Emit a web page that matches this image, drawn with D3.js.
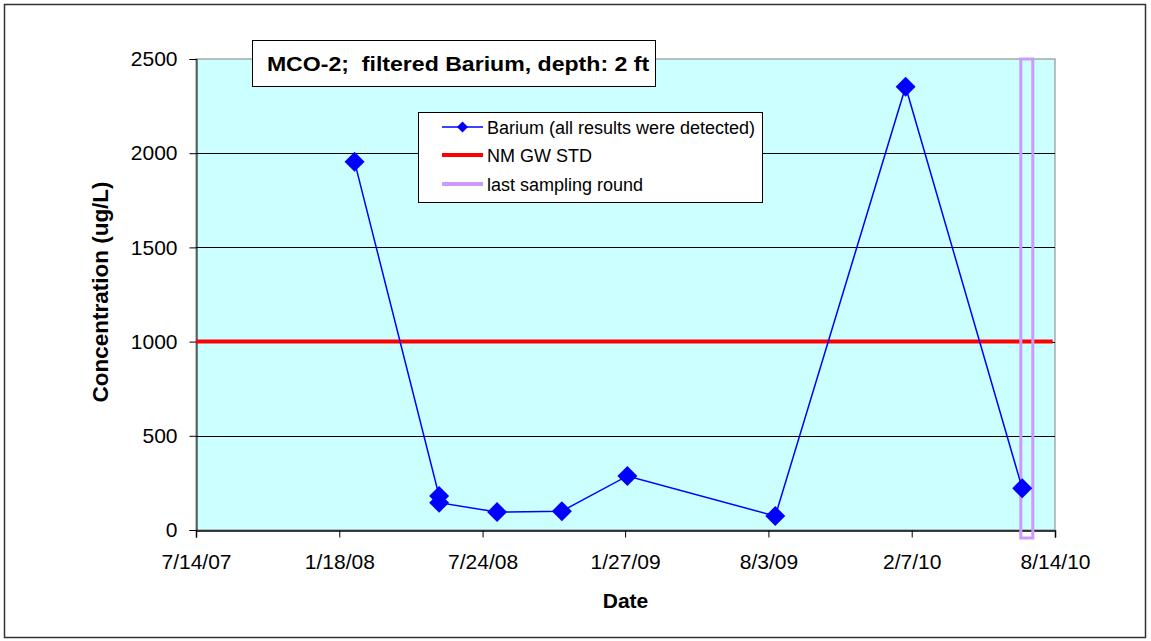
<!DOCTYPE html>
<html>
<head>
<meta charset="utf-8">
<script src="https://cdn.jsdelivr.net/npm/d3@7"></script>
<style>
  html, body { margin: 0; padding: 0; background: #ffffff; }
  svg { display: block; font-family: Arial, "Liberation Sans", sans-serif; }
</style>
</head>
<body>
<svg id="chart" width="1151" height="641"></svg>
<script>
// Barium concentration results, well MCO-2
const sampleDates = ["2008-02-07", "2008-05-28", "2008-05-28", "2008-08-12", "2008-11-05", "2009-01-30", "2009-08-12", "2010-01-30", "2010-07-02"];
const bariumValues = [1955, 180, 145, 95, 100, 287, 74, 2353, 221];

// NM groundwater standard (constant line)
const stdDates = ["2007-07-14", "2010-08-11"];
const stdValues = [1000, 1000];

// Most recent sampling round marker
const lastRoundDate = "2010-07-08";

// Axis ticks
const xTickDates = ["2007-07-14", "2008-01-18", "2008-07-24", "2009-01-27", "2009-08-03", "2010-02-07", "2010-08-14"];
const xTickLabels = ["7/14/07", "1/18/08", "7/24/08", "1/27/09", "8/3/09", "2/7/10", "8/14/10"];
const yTickValues = [0, 500, 1000, 1500, 2000, 2500];

const titleText = "MCO-2;  filtered Barium, depth: 2 ft";
const legendLabels = ["Barium (all results were detected)", "NM GW STD", "last sampling round"];

const parse = d3.utcParse("%Y-%m-%d");
const svg = d3.select("#chart");

const plot = { left: 196, right: 1055, top: 59, bottom: 530 };

const x = d3.scaleUtc()
  .domain([parse(xTickDates[0]), parse(xTickDates[xTickDates.length - 1])])
  .range([plot.left, plot.right]);
const y = d3.scaleLinear().domain([0, 2500]).range([plot.bottom, plot.top]);

// outer chart frame
svg.append("rect")
  .attr("x", 4.5).attr("y", 4.5).attr("width", 1141).attr("height", 633)
  .attr("fill", "#ffffff").attr("stroke", "#333333").attr("stroke-width", 1.5);

// plot area
svg.append("rect")
  .attr("x", plot.left).attr("y", plot.top)
  .attr("width", plot.right - plot.left).attr("height", plot.bottom - plot.top)
  .attr("fill", "#ccffff").attr("stroke", "#808080").attr("stroke-width", 1);

// horizontal gridlines
svg.append("g").selectAll("line")
  .data(yTickValues.filter(v => v > 0 && v < 2500))
  .join("line")
  .attr("x1", plot.left).attr("x2", plot.right)
  .attr("y1", d => Math.round(y(d)) + 0.5).attr("y2", d => Math.round(y(d)) + 0.5)
  .attr("stroke", "#000000").attr("stroke-width", 1);

// y axis
const yAxis = svg.append("g")
  .attr("transform", `translate(${plot.left + 0.5},0)`)
  .call(d3.axisLeft(y).tickValues(yTickValues).tickSize(7).tickPadding(12).tickFormat(d3.format("d")));
yAxis.select(".domain").attr("stroke", "#000000");
yAxis.selectAll(".tick line").attr("stroke", "#000000");
yAxis.selectAll("text").attr("font-size", 21).attr("fill", "#000000")
  .attr("font-family", "Arial, 'Liberation Sans', sans-serif");

// x axis
const xAxis = svg.append("g")
  .attr("transform", `translate(0,${plot.bottom + 0.5})`)
  .call(d3.axisBottom(x).tickValues(xTickDates.map(parse)).tickSize(7).tickPadding(17)
    .tickFormat((d, i) => xTickLabels[i]));
xAxis.select(".domain").attr("stroke", "#000000").attr("stroke-width", 1.5);
xAxis.selectAll(".tick line").attr("stroke", "#000000");
xAxis.selectAll("text").attr("font-size", 21).attr("fill", "#000000")
  .attr("font-family", "Arial, 'Liberation Sans', sans-serif");

// left tick crossing at the origin
svg.append("line")
  .attr("x1", plot.left + 0.5).attr("x2", plot.left + 0.5)
  .attr("y1", plot.bottom).attr("y2", plot.bottom + 7)
  .attr("stroke", "#000000");

// standard line
const stdLine = d3.line().x(d => x(d.date)).y(d => y(d.value));
svg.append("path")
  .datum(stdDates.map((d, i) => ({ date: parse(d), value: stdValues[i] })))
  .attr("d", stdLine)
  .attr("fill", "none").attr("stroke", "#ff0000").attr("stroke-width", 4);

// last sampling round marker
const lx = x(parse(lastRoundDate));
svg.append("rect")
  .attr("x", lx - 6).attr("y", y(2500))
  .attr("width", 12).attr("height", y(0) - y(2500) + 8)
  .attr("fill", "none").attr("stroke", "#cc99ff").attr("stroke-width", 3);

// barium series
const pts = sampleDates.map((d, i) => ({ date: parse(d), value: bariumValues[i] }));
svg.append("path")
  .datum(pts)
  .attr("d", d3.line().x(d => x(d.date)).y(d => y(d.value)))
  .attr("fill", "none").attr("stroke", "#0000ff").attr("stroke-width", 1.5);

const diamond = r => `M0,${-r}L${r},0L0,${r}L${-r},0Z`;
svg.append("g").selectAll("path")
  .data(pts)
  .join("path")
  .attr("transform", d => `translate(${x(d.date)},${y(d.value)})`)
  .attr("d", diamond(10))
  .attr("fill", "#0000ff");

// title box
const tb = svg.append("g");
tb.append("rect")
  .attr("x", 252.5).attr("y", 40.5).attr("width", 403).attr("height", 46)
  .attr("fill", "#ffffff").attr("stroke", "#000000").attr("stroke-width", 1);
tb.append("text")
  .attr("transform", "translate(458,71) scale(1.1,1)")
  .attr("text-anchor", "middle").attr("font-size", 21).attr("font-weight", "bold")
  .attr("fill", "#000000").attr("xml:space", "preserve").style("white-space", "pre")
  .text(titleText);

// legend
const lg = svg.append("g");
lg.append("rect")
  .attr("x", 418.5).attr("y", 112.5).attr("width", 344).attr("height", 90)
  .attr("fill", "#ffffff").attr("stroke", "#000000").attr("stroke-width", 1);
const rowY = [127, 155, 184];
const rowColor = ["#0000ff", "#ff0000", "#cc99ff"];
const rowWidth = [1.5, 4, 4];
legendLabels.forEach((label, i) => {
  lg.append("line")
    .attr("x1", 442).attr("x2", 483).attr("y1", rowY[i]).attr("y2", rowY[i])
    .attr("stroke", rowColor[i]).attr("stroke-width", rowWidth[i]);
  if (i === 0) {
    lg.append("path")
      .attr("transform", `translate(462.5,${rowY[i]})`)
      .attr("d", diamond(5.5)).attr("fill", "#0000ff");
  }
  lg.append("text")
    .attr("x", 487).attr("y", rowY[i] + 6.5)
    .attr("font-size", 18).attr("fill", "#000000")
    .text(label);
});

// axis titles
svg.append("text")
  .attr("transform", `translate(108,292) rotate(-90)`)
  .attr("text-anchor", "middle").attr("font-size", 22.5).attr("font-weight", "bold")
  .attr("fill", "#000000")
  .text("Concentration (ug/L)");
svg.append("text")
  .attr("x", (plot.left + plot.right) / 2).attr("y", 608)
  .attr("text-anchor", "middle").attr("font-size", 21).attr("font-weight", "bold")
  .attr("fill", "#000000")
  .text("Date");
</script>
</body>
</html>
